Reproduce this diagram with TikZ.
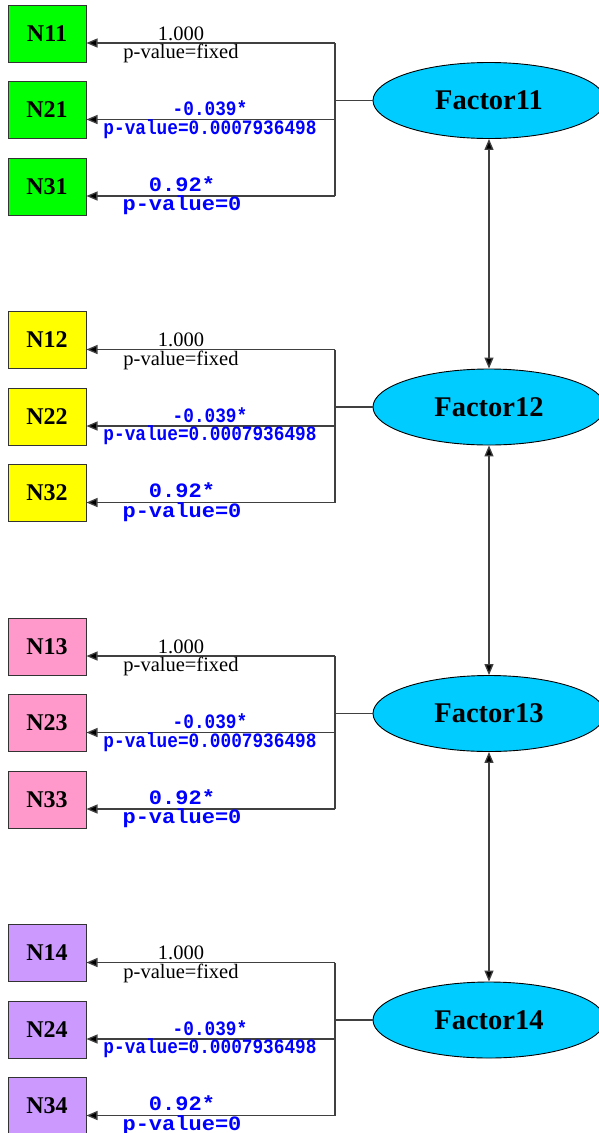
\documentclass[tikz,border=0pt]{standalone}
\usepackage{fontspec}
\setmainfont{Liberation Serif}
\newfontfamily\monob{Liberation Mono}
\usetikzlibrary{arrows.meta,shapes.geometric}
\definecolor{cg}{HTML}{00FF00}
\definecolor{cy}{HTML}{FFFF00}
\definecolor{cp}{HTML}{FF99CC}
\definecolor{cv}{HTML}{CC99FF}
\definecolor{cfac}{HTML}{00CCFF}
\definecolor{lncol}{HTML}{404040}
\tikzset{
  obs/.style={draw=black!80, line width=1pt, minimum width=78pt, minimum height=57pt, inner sep=0pt, font=\bfseries\fontsize{24}{24}\selectfont},
  fac/.style={ellipse, draw=black, line width=0.9pt, fill=cfac, minimum width=232pt, minimum height=76pt, inner sep=0pt, font=\bfseries\fontsize{28.5}{28.5}\selectfont},
  ln/.style={draw=lncol, line width=1.3pt},
  arr/.style={draw=lncol, line width=1.3pt, -{Triangle[length=11pt,width=9pt,fill=black]}},
  darr/.style={draw=lncol, line width=1.3pt, {Triangle[length=11pt,width=9pt,fill=black]}-{Triangle[length=11pt,width=9pt,fill=black]}},
  blk/.style={font=\fontsize{20.5}{20.5}\selectfont, inner sep=0pt, anchor=base},
  blu/.style={text=blue, font=\monob\bfseries\fontsize{17.75}{18}\selectfont, inner sep=0pt, anchor=base}
}
\begin{document}
\begin{tikzpicture}[x=1pt,y=-1pt]
\useasboundingbox (0,0) rectangle (598,1133);
\foreach \g/\col in {1/cg,2/cy,3/cp,4/cv} {
  \pgfmathsetmacro\off{306.5*(\g-1)}
  \pgfmathsetmacro\aa{43+\off}
  \pgfmathsetmacro\ab{43+\off+76.5}
  \pgfmathsetmacro\ac{43+\off+153}
  \node[fac] (F\g) at (489, 100.5+\off) {Factor1\g};
  \coordinate (J\g) at (335, 100.5+\off);
  \draw[ln] (F\g.west) -- (J\g);
  \foreach \r in {1,2,3} {
    \pgfmathsetmacro\ay{43+\off+76.5*(\r-1)}
    \node[obs, fill=\col] (N\r\g) at (47, \ay-9.5) {N\r\g};
    \coordinate (A\r\g) at (335, \ay);
    \draw[arr] (A\r\g) -- (N\r\g.east |- A\r\g);
  }
  \draw[ln] (A1\g) -- (A3\g);
  \node[blk] (La\g) at (181, \aa-3) {1.000};
  \node[blk] (Pa\g) at (181, \aa+15.5) {p-value=fixed};
  \node[blu] (Lb\g) at (210, \ab-4) {\scalebox{1}[1.15]{-0.039*}};
  \node[blu] (Pb\g) at (210, \ab+14.5) {\scalebox{1}[1.15]{p-value=0.0007936498}};
  \node[blu] (Lc\g) at (182, \ac-5) {\scalebox{1.24}[1.15]{0.92*}};
  \node[blu] (Pc\g) at (182, \ac+14.5) {\scalebox{1.24}[1.15]{p-value=0}};
}
\foreach \a/\b in {1/2,2/3,3/4} \draw[darr] (F\a.south) -- (F\b.north);
\end{tikzpicture}
\end{document}
